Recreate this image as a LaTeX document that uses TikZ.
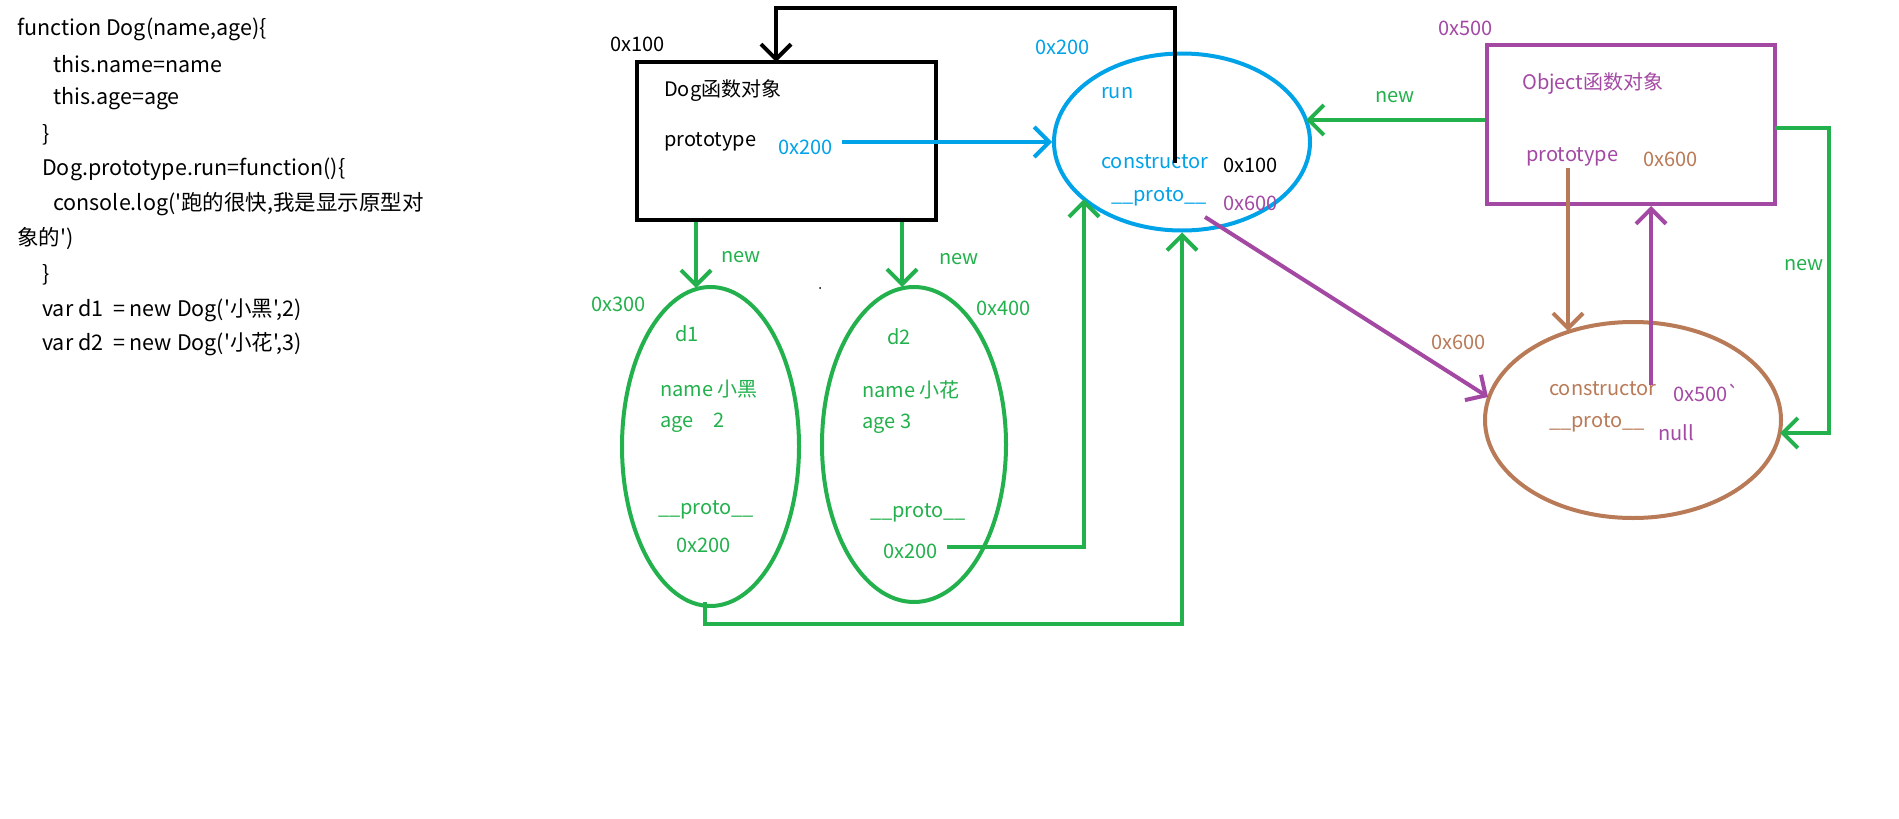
\documentclass[tikz,border=0pt]{standalone}
\usepackage{fontspec}
\setmainfont{Noto Sans CJK SC}[Ligatures=TeXOff]
\usetikzlibrary{arrows.meta,shapes.geometric}
\definecolor{pgreen}{HTML}{22B14C}
\definecolor{pblue}{HTML}{00A2E8}
\definecolor{ppurple}{HTML}{A349A4}
\definecolor{pbrown}{HTML}{B97A57}
\begin{document}
\begin{tikzpicture}[x=1pt,y=-1pt,
  code/.style={anchor=west,inner sep=0pt,font=\fontsize{21.5}{25}\selectfont},
  lbl/.style={anchor=west,inner sep=0pt,font=\fontsize{20}{24}\selectfont},
  stroke/.style={line width=4pt},
  tip/.style={-{Straight Barb[length=15pt,width=30pt]}},
  box/.style={draw,stroke,rectangle,inner sep=0pt},
  oval/.style={draw,stroke,ellipse,inner sep=0pt},
]
\useasboundingbox[fill=white] (0,0) rectangle (1899,819);

% ---- source code ----
\node[code] (c1)  at (17,29)  {function Dog(name,age)\{};
\node[code] (c2)  at (53,64)  {this.name=name};
\node[code] (c3)  at (53,99)  {this.age=age};
\node[code] (c4)  at (42,135) {\}};
\node[code] (c5)  at (42,169) {Dog.prototype.run=function()\{};
\node[code] (c6)  at (53,204) {console.log('跑的很快,我是显示原型对};
\node[code] (c7)  at (17,239) {象的')};
\node[code] (c8)  at (42,275) {\}};
\node[code] (c9)  at (42,310) {var d1 \ = new Dog('小黑',2)};
\node[code] (c10) at (42,344) {var d2 \ = new Dog('小花',3)};

% ---- shapes ----
\node[box,minimum width=299pt,minimum height=158pt] (dog) at (786.5,141) {};
\node[oval,draw=pblue,minimum width=256pt,minimum height=177pt] (blue) at (1182,142) {};
\node[oval,draw=pgreen,minimum width=177pt,minimum height=319pt] (d1) at (710.5,446.5) {};
\node[oval,draw=pgreen,minimum width=184pt,minimum height=315pt] (d2) at (914,444.5) {};
\node[box,draw=ppurple,minimum width=288pt,minimum height=159pt] (obj) at (1631,124.5) {};
\node[oval,draw=pbrown,minimum width=296pt,minimum height=196pt] (brown) at (1633,420) {};

% ---- Dog function object ----
\node[lbl] (a100) at (610,44) {0x100};
\node[lbl] (dogt) at (664,91) {Dog函数对象};
\node[lbl] (dogp) at (664,142) {prototype};
\node[lbl,text=pblue] (dogv) at (778,147) {0x200};

% ---- Dog prototype object ----
\node[lbl,text=pblue] (a200) at (1035,47) {0x200};
\node[lbl,text=pblue] (run) at (1101,93) {run};
\node[lbl,text=pblue] (ctor) at (1101,162) {constructor};
\node[lbl] (ctorv) at (1223,165) {0x100};
\node[lbl,text=pblue] (bproto) at (1111,197) {\_\_proto\_\_};
\node[lbl,text=ppurple] (bprotov) at (1223,203) {0x600};

% ---- instances ----
\node[lbl,text=pgreen] (a300) at (591,304) {0x300};
\node[lbl,text=pgreen] (a400) at (976,308) {0x400};
\node[lbl,text=pgreen] (new1) at (721,257) {new};
\node[lbl,text=pgreen] (new2) at (939,259) {new};
\node[lbl,text=pgreen] (d1n) at (675,334) {d1};
\node[lbl,text=pgreen] (d1a) at (660,389) {name 小黑};
\node[lbl,text=pgreen] (d1b) at (660,423) {age\hspace{15pt} 2};
\node[lbl,text=pgreen] (d1c) at (658,510) {\_\_proto\_\_};
\node[lbl,text=pgreen] (d1d) at (676,545) {0x200};
\node[lbl,text=pgreen] (d2n) at (887,337) {d2};
\node[lbl,text=pgreen] (d2a) at (862,390) {name 小花};
\node[lbl,text=pgreen] (d2b) at (862,424) {age 3};
\node[lbl,text=pgreen] (d2c) at (870,513) {\_\_proto\_\_};
\node[lbl,text=pgreen] (d2d) at (883,551) {0x200};
\fill (820,288) circle (1pt);

% ---- Object function object ----
\node[lbl,text=ppurple] (a500) at (1438,28) {0x500};
\node[lbl,text=ppurple] (objt) at (1522,83) {Object函数对象};
\node[lbl,text=ppurple] (objp) at (1526,157) {prototype};
\node[lbl,text=pbrown] (objv) at (1643,159) {0x600};
\node[lbl,text=pgreen] (new3) at (1375,97) {new};
\node[lbl,text=pgreen] (new4) at (1784,265) {new};

% ---- Object prototype ----
\node[lbl,text=pbrown] (a600) at (1431,342) {0x600};
\node[lbl,text=pbrown] (octor) at (1549,389) {constructor};
\node[lbl,text=ppurple] (octorv) at (1673,393) {0x500`};
\node[lbl,text=pbrown] (oproto) at (1549,423) {\_\_proto\_\_};
\node[lbl,text=ppurple] (oprotov) at (1658,433) {null};

% ---- connector ends ----
\coordinate (topY) at (0,8);
\coordinate (ctorTop) at (1175,163);
\coordinate (dogIn) at (776,62);
\coordinate (protoOut) at (842,142);
\coordinate (n1) at (696,288);
\coordinate (n2) at (902,287);
\coordinate (d1out) at (705,602);
\coordinate (d1low) at (705,624);
\coordinate (d2out) at (947,547);
\coordinate (blueLow) at (1084,199);
\coordinate (blueRight) at (1306,120);
\coordinate (objRight) at (1775,128);
\coordinate (brownRight) at (1780,433);
\coordinate (objProto) at (1568,168);
\coordinate (brownTop) at (1568,331);
\coordinate (ctorUp) at (1651,385);
\coordinate (blueProto) at (1205,217);
\coordinate (brownLeft) at (1488,397);

% ---- connectors ----
\draw[stroke,tip] (ctorTop) -- (ctorTop |- topY) -| (dogIn);
\draw[stroke,tip,pblue] (protoOut) -- (blue.west);
\draw[stroke,tip,pgreen] (dog.south -| n1) -- (n1);
\draw[stroke,tip,pgreen] (dog.south -| n2) -- (n2);
\draw[stroke,tip,pgreen] (d2out) -| (blueLow);
\draw[stroke,tip,pgreen] (d1out) -- (d1low) -| (blue.south);
\draw[stroke,tip,pgreen] (obj.west |- blueRight) -- (blueRight);
\draw[stroke,tip,pgreen] (objRight) -- ++(54,0) |- (brownRight);
\draw[stroke,tip,pbrown] (objProto) -- (brownTop);
\draw[stroke,tip,ppurple] (ctorUp) -- (obj.south -| ctorUp);
\draw[stroke,tip,ppurple] (blueProto) -- (brownLeft);
\end{tikzpicture}
\end{document}
